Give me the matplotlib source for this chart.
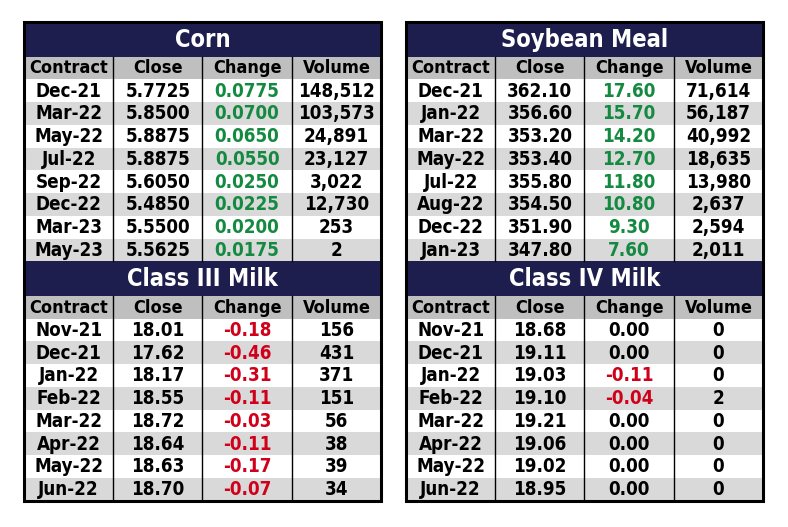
import matplotlib
matplotlib.use("Agg")
import matplotlib.pyplot as plt
from matplotlib.patches import Rectangle

plt.rcParams['font.family'] = ['DejaVu Sans']

columns = ["Contract", "Close", "Change", "Volume"]

corn_title = "Corn"
corn_contracts = ["Dec-21", "Mar-22", "May-22", "Jul-22", "Sep-22", "Dec-22", "Mar-23", "May-23"]
corn_close = ["5.7725", "5.8500", "5.8875", "5.8875", "5.6050", "5.4850", "5.5500", "5.5625"]
corn_change = ["0.0775", "0.0700", "0.0650", "0.0550", "0.0250", "0.0225", "0.0200", "0.0175"]
corn_volume = ["148,512", "103,573", "24,891", "23,127", "3,022", "12,730", "253", "2"]

sbm_title = "Soybean Meal"
sbm_contracts = ["Dec-21", "Jan-22", "Mar-22", "May-22", "Jul-22", "Aug-22", "Dec-22", "Jan-23"]
sbm_close = ["362.10", "356.60", "353.20", "353.40", "355.80", "354.50", "351.90", "347.80"]
sbm_change = ["17.60", "15.70", "14.20", "12.70", "11.80", "10.80", "9.30", "7.60"]
sbm_volume = ["71,614", "56,187", "40,992", "18,635", "13,980", "2,637", "2,594", "2,011"]

c3_title = "Class III Milk"
c3_contracts = ["Nov-21", "Dec-21", "Jan-22", "Feb-22", "Mar-22", "Apr-22", "May-22", "Jun-22"]
c3_close = ["18.01", "17.62", "18.17", "18.55", "18.72", "18.64", "18.63", "18.70"]
c3_change = ["-0.18", "-0.46", "-0.31", "-0.11", "-0.03", "-0.11", "-0.17", "-0.07"]
c3_volume = ["156", "431", "371", "151", "56", "38", "39", "34"]

c4_title = "Class IV Milk"
c4_contracts = ["Nov-21", "Dec-21", "Jan-22", "Feb-22", "Mar-22", "Apr-22", "May-22", "Jun-22"]
c4_close = ["18.68", "19.11", "19.03", "19.10", "19.21", "19.06", "19.02", "18.95"]
c4_change = ["0.00", "0.00", "-0.11", "-0.04", "0.00", "0.00", "0.00", "0.00"]
c4_volume = ["0", "0", "0", "2", "0", "0", "0", "0"]

NAVY = "#1e1e4e"
HEAD = "#bfbfbf"
ALT = "#d9d9d9"
GREEN = "#138a40"
RED = "#d0001a"

W, H = 788, 527
fig = plt.figure(figsize=(W / 100, H / 100), dpi=100)
ax = fig.add_axes([0, 0, 1, 1])
ax.set_xlim(0, W)
ax.set_ylim(H, 0)
ax.axis("off")

TITLE_H = 34.5
ROW_H = 22.75
TXT = dict(fontweight="bold", fontstretch="condensed", ha="center", va="center")


def change_color(v):
    f = float(v)
    if f > 0:
        return GREEN
    if f < 0:
        return RED
    return "black"


def draw_block(x0, y0, width, title, contracts, close, change, volume):
    colw = width / 4
    ax.add_patch(Rectangle((x0, y0), width, TITLE_H, facecolor=NAVY, edgecolor="none"))
    ax.text(x0 + width / 2, y0 + TITLE_H / 2 + 1, title, color="white", fontsize=17, **TXT)
    y = y0 + TITLE_H
    ax.add_patch(Rectangle((x0, y), width, ROW_H, facecolor=HEAD, edgecolor="none"))
    for j, c in enumerate(columns):
        ax.text(x0 + colw * (j + 0.5), y + ROW_H / 2 + 0.5, c, fontsize=13,
                color="black", **TXT)
    y_rows = y + ROW_H
    for i in range(len(contracts)):
        yy = y_rows + i * ROW_H
        fc = "white" if i % 2 == 0 else ALT
        ax.add_patch(Rectangle((x0, yy), width, ROW_H, facecolor=fc, edgecolor="none"))
        vals = [contracts[i], close[i], change[i], volume[i]]
        cols = ["black", "black", change_color(change[i]), "black"]
        for j, v in enumerate(vals):
            ax.text(x0 + colw * (j + 0.5), yy + ROW_H / 2 + 0.5, v, fontsize=13.5,
                    color=cols[j], **TXT)
    y_end = y_rows + len(contracts) * ROW_H
    for j in range(1, 4):
        ax.plot([x0 + colw * j] * 2, [y, y_end], color="black", lw=1.0)
    return y_end


for x0, top, bottom in [(24, (corn_title, corn_contracts, corn_close, corn_change, corn_volume),
                         (c3_title, c3_contracts, c3_close, c3_change, c3_volume)),
                        (406, (sbm_title, sbm_contracts, sbm_close, sbm_change, sbm_volume),
                         (c4_title, c4_contracts, c4_close, c4_change, c4_volume))]:
    width = 357
    y_mid = draw_block(x0, 22, width, *top)
    y_end = draw_block(x0, y_mid, width, *bottom)
    ax.add_patch(Rectangle((x0, 22), width, y_end - 22, facecolor="none",
                           edgecolor="black", lw=2.2, zorder=5))

fig.savefig("out.png", dpi=100, facecolor="white")
